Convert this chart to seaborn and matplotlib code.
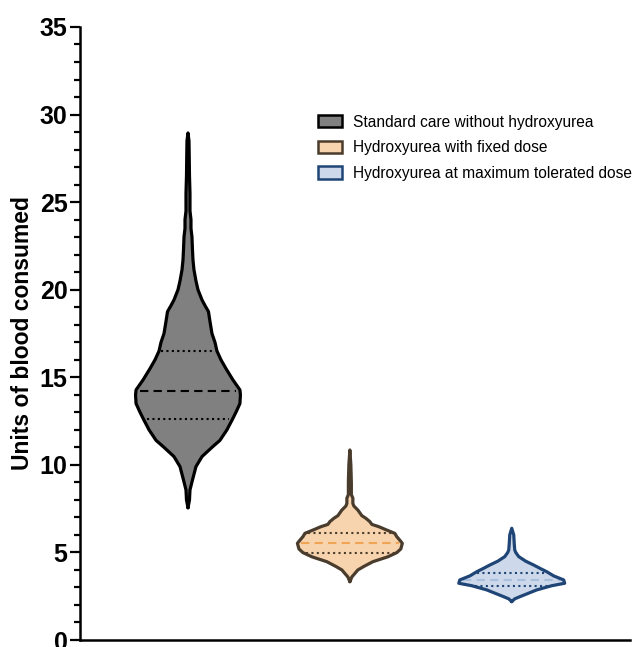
import numpy as np
import matplotlib
matplotlib.use("Agg")
import matplotlib.pyplot as plt
from matplotlib.patches import Patch
from matplotlib.ticker import MultipleLocator
import seaborn as sns

# ---------------- data ----------------
groups = ["Standard care without hydroxyurea",
          "Hydroxyurea with fixed dose",
          "Hydroxyurea at maximum tolerated dose"]

# density profile: value levels and relative half-width (max = 53)
grey_y = [7.55, 8.0, 8.57, 9.14, 9.9, 10.47, 11.0, 11.4, 12.0, 12.6, 13.0, 13.5,
          14.0, 14.28, 14.85, 15.5, 16.0, 16.5, 17.0, 17.5, 18.2, 18.75, 19.1,
          19.42, 20.0, 20.5, 21.13, 21.7, 22.27, 23.0, 23.5, 24.0, 24.5, 25.5,
          26.5, 27.8, 28.5, 28.95]
grey_w = [0, 1.5, 2, 4.5, 8, 14, 24, 32, 39, 44.5, 48, 52,
          52.5, 52, 45, 38, 33, 29, 27, 24, 22, 20.5, 17,
          14, 10, 8, 6, 5, 4.5, 4, 3, 3, 2, 2,
          1.5, 1.2, 1, 0]

orange_y = [3.33, 3.6, 4.0, 4.2, 4.47, 4.75, 4.99, 5.2, 5.52, 5.7, 5.9, 6.09,
            6.3, 6.47, 6.6, 6.76, 6.95, 7.1, 7.42, 7.65, 7.8, 8.1, 8.3, 9.0,
            10.0, 10.85]
orange_w = [0, 2, 8, 14, 23, 38, 47, 51, 52.5, 50, 47, 45,
            36, 29, 22, 20, 16, 12, 8, 4, 3, 3, 1.5, 1.5,
            1, 0]

blue_y = [2.19, 2.35, 2.47, 2.86, 3.1, 3.24, 3.43, 3.66, 3.9, 4.1, 4.28, 4.5,
          4.76, 5.0, 5.14, 5.5, 6.0, 6.38]
blue_w = [0, 3, 8, 25, 40, 53, 52, 42, 35, 28, 22, 14,
          7, 4, 3, 2.5, 2, 0]

medians = [14.24, 5.52, 3.43]
q1s = [12.6, 4.99, 3.1]
q3s = [16.5, 6.09, 3.81]

fills = ["#808080", "#f7d4ae", "#cdd9ea"]
edges = ["#000000", "#4a3c2c", "#1f4576"]
median_colors = ["#000000", "#f0a454", "#a8bfdd"]

yticks = [0, 5, 10, 15, 20, 25, 30, 35]

# ---------------- style ----------------
sns.set_style("ticks")
plt.rcParams["font.family"] = ["Liberation Sans", "DejaVu Sans"]
plt.rcParams["text.color"] = "black"
plt.rcParams["axes.labelcolor"] = "black"
plt.rcParams["ytick.color"] = "black"
plt.rcParams["xtick.color"] = "black"

fig = plt.figure(figsize=(6.35, 6.47), dpi=100)
ax = fig.add_axes([0.126, 0.0108, 0.866, 0.9475])

profiles = [(grey_y, grey_w), (orange_y, orange_w), (blue_y, blue_w)]
half_max = 0.327  # half-width of widest point, in category units

for i, (yy, ww) in enumerate(profiles):
    yy = np.asarray(yy, float)
    ww = np.asarray(ww, float) / 53.0 * half_max
    ax.fill_betweenx(yy, i - ww, i + ww, facecolor=fills[i],
                     edgecolor="none", zorder=2)
    ax.plot(np.concatenate([i - ww, (i + ww)[::-1], [i - ww[0]]]),
            np.concatenate([yy, yy[::-1], [yy[0]]]),
            color=edges[i], lw=2.3, solid_joinstyle="round", zorder=4)
    for q, style, col in [(q1s[i], (0, (1, 1.6)), edges[i]),
                          (q3s[i], (0, (1, 1.6)), edges[i]),
                          (medians[i], (0, (4, 2.5)), median_colors[i])]:
        hw = np.interp(q, yy, ww) * 0.93
        ax.plot([i - hw, i + hw], [q, q], color=col, lw=1.5,
                linestyle=style, zorder=3)

ax.set_xlim(-0.667, 2.73)
ax.set_ylim(0, 35)
ax.set_yticks(yticks)
ax.set_yticklabels([str(t) for t in yticks], fontsize=18, fontweight="bold")
ax.yaxis.set_minor_locator(MultipleLocator(1))
ax.set_xticks([])
ax.tick_params(axis="y", which="major", length=7, width=1.6, pad=2)
ax.tick_params(axis="y", which="minor", length=4, width=1.6)
ax.set_ylabel("Units of blood consumed", fontsize=16.5, fontweight="bold",
              labelpad=4)
sns.despine(ax=ax)
for s in ["left", "bottom"]:
    ax.spines[s].set_linewidth(1.8)
    ax.spines[s].set_color("black")

handles = [Patch(facecolor=fills[i], edgecolor=edges[i], linewidth=1.8,
                 label=groups[i]) for i in range(3)]
ax.legend(handles=handles, loc="upper left", bbox_to_anchor=(0.433, 0.857),
          frameon=False, fontsize=11.2, borderaxespad=0, borderpad=0,
          handlelength=1.55, handleheight=0.85, handletextpad=0.7,
          labelspacing=0.68)

fig.savefig("out.png", dpi=100)
